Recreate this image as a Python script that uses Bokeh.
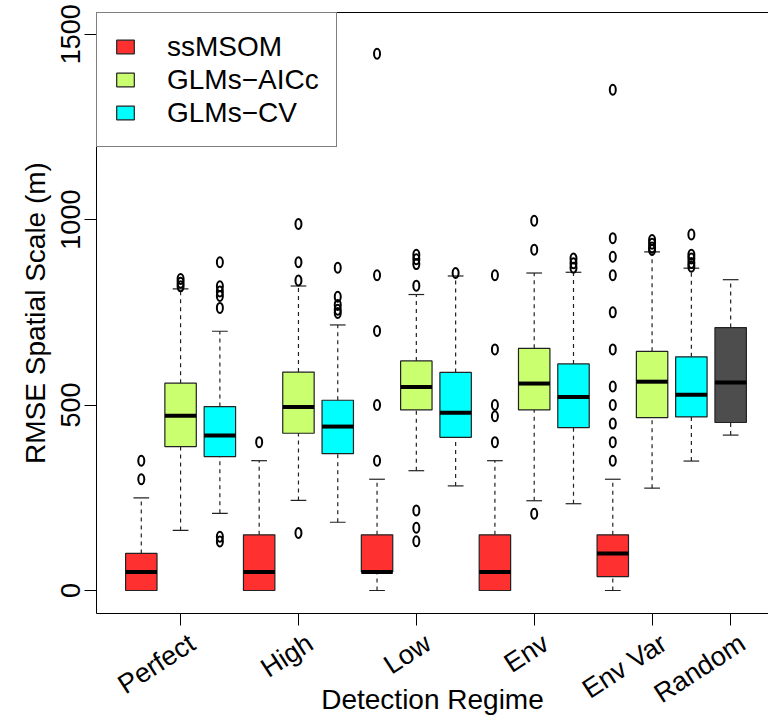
import math
from bokeh.plotting import figure
from bokeh.models import (Range1d, FixedTicker, Legend, LegendItem,
                          LinearAxis, ColumnDataSource)
from bokeh.embed import file_html
from bokeh.resources import INLINE

# ---------------- data ----------------
regimes = ["Perfect", "High", "Low", "Env", "Env Var"]
tick_labels = ["Perfect", "High", "Low", "Env", "Env Var", "Random"]
models = ["ssMSOM", "GLMs\u2212AICc", "GLMs\u2212CV"]
model_colors = ["#FF3030", "#CAFF70", "#00FFFF"]
random_color = "#4D4D4D"

ssmsom_lo = [0, 0, 0, 0, 0]
ssmsom_q1 = [0, 0, 50, 0, 37.5]
ssmsom_med = [50, 50, 50, 50, 100]
ssmsom_q3 = [100, 150, 150, 150, 150]
ssmsom_hi = [250, 350, 300, 350, 300]
ssmsom_out = [[300, 350], [400], [350, 500, 700, 850, 1447],
              [400, 470, 500, 650, 850],
              [350, 400, 450, 500, 550, 650, 750, 850, 900, 950, 1350]]

aicc_lo = [162, 243, 323, 242, 276]
aicc_q1 = [388, 424, 487, 487, 466]
aicc_med = [471, 495, 549, 558, 563]
aicc_q3 = [559, 589, 619, 653, 645]
aicc_hi = [813, 821, 798, 856, 913]
aicc_out = [[820, 830, 840], [155, 836, 885, 988],
            [133, 169, 216, 822, 880, 893, 905], [207, 919, 997],
            [918, 925, 935, 945]]

cv_lo = [208, 184, 282, 234, 349]
cv_q1 = [361, 369, 413, 439, 468]
cv_med = [418, 442, 479, 522, 528]
cv_q3 = [496, 513, 588, 611, 630]
cv_hi = [699, 716, 848, 858, 869]
cv_out = [[132, 145, 762, 794, 806, 820, 885], [748, 757, 770, 792, 870],
          [856], [870, 882, 895], [873, 883, 895, 905, 960]]

random_lo = [419]
random_q1 = [453]
random_med = [561]
random_q3 = [709]
random_hi = [838]

y_ticks = [0, 500, 1000, 1500]

# ---------------- figure ----------------
FONT = "Liberation Sans"
p = figure(width=768, height=720, output_backend="svg", toolbar_location=None,
           x_range=Range1d(-0.14, 16.963), y_range=Range1d(-62, 1558.4),
           min_border_left=96, min_border_right=0, min_border_top=12,
           min_border_bottom=107)
p.xgrid.visible = False
p.ygrid.visible = False
p.outline_line_color = None
p.background_fill_color = "white"
p.border_fill_color = "white"

series = [
    (ssmsom_lo, ssmsom_q1, ssmsom_med, ssmsom_q3, ssmsom_hi, ssmsom_out),
    (aicc_lo, aicc_q1, aicc_med, aicc_q3, aicc_hi, aicc_out),
    (cv_lo, cv_q1, cv_med, cv_q3, cv_hi, cv_out),
]

BW = 0.4   # half box width
SW = 0.2   # half staple width
box_renderers = []


def draw_boxes(xs, lo, q1, med, q3, hi, outs, color):
    src = ColumnDataSource(dict(
        x=xs, lo=lo, q1=q1, med=med, q3=q3, hi=hi,
        l=[x - BW for x in xs], r=[x + BW for x in xs],
        sl=[x - SW for x in xs], sr=[x + SW for x in xs]))
    p.segment(x0="x", y0="q3", x1="x", y1="hi", source=src,
              line_color="#222222", line_width=1.2, line_dash="4 4")
    p.segment(x0="x", y0="lo", x1="x", y1="q1", source=src,
              line_color="#222222", line_width=1.2, line_dash="4 4")
    p.segment(x0="sl", y0="hi", x1="sr", y1="hi", source=src,
              line_color="#222222", line_width=1.2)
    p.segment(x0="sl", y0="lo", x1="sr", y1="lo", source=src,
              line_color="#222222", line_width=1.2)
    r = p.quad(left="l", right="r", bottom="q1", top="q3", source=src,
               fill_color=color, line_color="#222222", line_width=1.2)
    p.segment(x0="l", y0="med", x1="r", y1="med", source=src,
              line_color="black", line_width=4)
    ox, oy = [], []
    for x, vals in zip(xs, outs):
        for v in vals:
            ox.append(x)
            oy.append(v)
    if ox:
        p.ellipse(x=ox, y=oy, width=6, height=10, width_units="screen",
                  height_units="screen", fill_color=None,
                  line_color="black", line_width=2)
    return r


for m, (lo, q1, med, q3, hi, outs) in enumerate(series):
    xs = [3 * g + m + 1 for g in range(len(regimes))]
    box_renderers.append(draw_boxes(xs, lo, q1, med, q3, hi, outs,
                                    model_colors[m]))

random_x = 3 * len(regimes) + 1
draw_boxes([random_x], random_lo, random_q1, random_med, random_q3,
           random_hi, [[]], random_color)

# ---------------- axes ----------------
tick_pos = [3 * g + 2 for g in range(len(regimes))] + [random_x]
LABEL_SHIFT = 0.3   # R places the slanted labels slightly right of each tick
label_pos = [round(t + LABEL_SHIFT, 2) for t in tick_pos]

# tick marks drawn as "minor" ticks at the group centres, labels at shifted spots
p.xaxis.ticker = FixedTicker(ticks=label_pos, minor_ticks=tick_pos)
p.xaxis.major_label_overrides = {t: lab for t, lab in zip(label_pos, tick_labels)}
p.xaxis.major_label_orientation = math.radians(33)
p.xaxis.major_label_text_font = FONT
p.xaxis.major_label_text_font_size = "27px"
p.xaxis.major_label_text_color = "black"
p.xaxis.major_label_standoff = 15
p.xaxis.major_tick_out = 0
p.xaxis.major_tick_in = 0
p.xaxis.minor_tick_out = 12
p.xaxis.minor_tick_in = 0
p.xaxis.minor_tick_line_color = "black"
p.xaxis.minor_tick_line_width = 1
p.xaxis.axis_line_color = "black"
p.xaxis.axis_label = "Detection Regime"
p.xaxis.axis_label_text_font = FONT
p.xaxis.axis_label_text_font_size = "28px"
p.xaxis.axis_label_text_font_style = "normal"
p.xaxis.axis_label_text_color = "black"
p.xaxis.axis_label_standoff = -40

p.yaxis.ticker = FixedTicker(ticks=y_ticks)
p.yaxis.major_label_orientation = "vertical"
p.yaxis.major_label_text_font = FONT
p.yaxis.major_label_text_font_size = "27px"
p.yaxis.major_label_text_color = "black"
p.yaxis.major_label_standoff = 4
p.yaxis.major_tick_out = 12
p.yaxis.major_tick_in = 0
p.yaxis.minor_tick_out = 0
p.yaxis.minor_tick_in = 0
p.yaxis.axis_line_color = "black"
p.yaxis.major_tick_line_color = "black"
p.yaxis.axis_label = "RMSE Spatial Scale (m)"
p.yaxis.axis_label_text_font = FONT
p.yaxis.axis_label_text_font_size = "28px"
p.yaxis.axis_label_text_font_style = "normal"
p.yaxis.axis_label_text_color = "black"
p.yaxis.axis_label_standoff = 8

top_axis = LinearAxis(ticker=FixedTicker(ticks=[]),
                      major_tick_out=0, major_tick_in=0,
                      minor_tick_out=0, minor_tick_in=0,
                      axis_line_color="black")
p.add_layout(top_axis, "above")

# ---------------- legend ----------------
legend = Legend(items=[LegendItem(label=models[i], renderers=[box_renderers[i]])
                       for i in range(3)],
                location="top_left", margin=0, padding=17, spacing=0,
                label_standoff=31, glyph_width=22, glyph_height=17,
                label_height=33, label_text_font=FONT,
                label_text_font_size="28px", label_text_color="black",
                border_line_color="black", border_line_width=1,
                background_fill_color="white", background_fill_alpha=1)
p.add_layout(legend)

open("out.html", "w").write(file_html(p, INLINE))
